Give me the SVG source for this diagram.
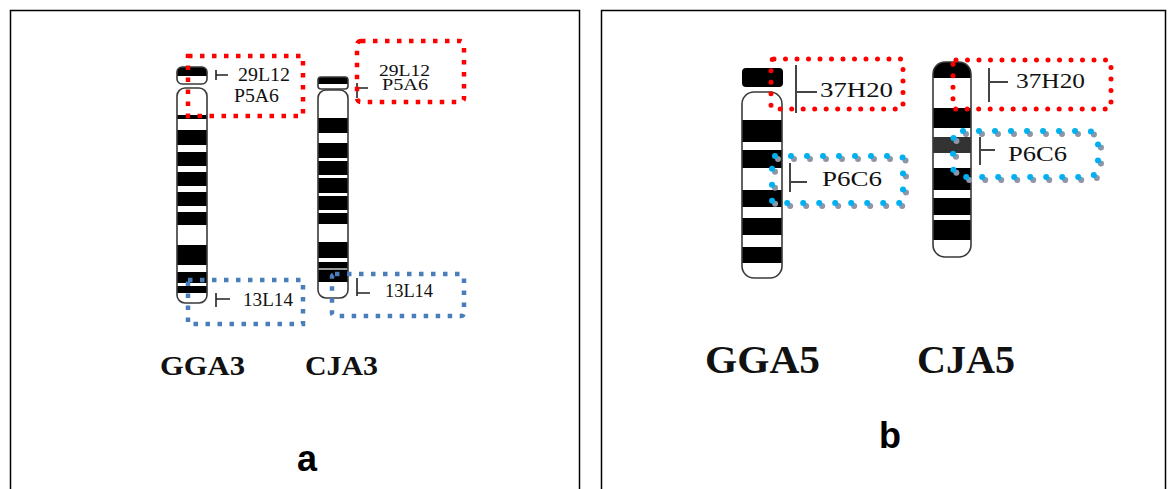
<svg xmlns="http://www.w3.org/2000/svg" width="1169" height="489" viewBox="0 0 1169 489">
  <style>
    .panel { fill: #ffffff; stroke: #000000; stroke-width: 1.5; }
    .arm { fill: #ffffff; }
    .band { fill: #000000; }
    .outline { fill: none; stroke: #3a3a3a; stroke-width: 1.6; }
    .lbl { font-family: "Liberation Serif", "Times New Roman", serif; fill: #111111; }
    .chr { font-family: "Liberation Serif", "Times New Roman", serif; font-weight: bold; fill: #111111; }
    .panel-id { font-family: "Liberation Sans", Arial, sans-serif; font-weight: bold; font-size: 36px; fill: #000000; text-anchor: middle; }
    .sq-red { fill: none; stroke: #ff0000; stroke-width: 4.5; stroke-dasharray: 4.5 7.5; }
    .sq-blue { fill: none; stroke: #4a7ebb; stroke-width: 4.5; stroke-dasharray: 4.5 7.5; }
    .rd-red { fill: none; stroke: #ff0000; stroke-width: 5; stroke-linecap: round; stroke-dasharray: 0 11.5; }
    .rd-blue { fill: none; stroke: #00b0f0; stroke-width: 6; stroke-linecap: round; stroke-dasharray: 0 16; }
    .rd-shadow { fill: none; stroke: #8e95a6; stroke-width: 6; stroke-linecap: round; stroke-dasharray: 0 16; }
    .tick { fill: none; stroke: #222222; stroke-width: 1.6; }
    .tick-b { fill: none; stroke: #444444; stroke-width: 2; }
  </style>
  <defs>
    <clipPath id="cp-gga3-p"><rect x="177" y="67" width="30" height="17" rx="5"/></clipPath>
    <clipPath id="cp-gga3-q"><rect x="177" y="88" width="30" height="215" rx="8"/></clipPath>
    <clipPath id="cp-cja3-p"><rect x="318" y="77" width="30" height="12" rx="3"/></clipPath>
    <clipPath id="cp-cja3-q"><rect x="318" y="90" width="30" height="208" rx="8"/></clipPath>
    <clipPath id="cp-gga5-q"><rect x="742" y="92" width="40" height="186" rx="12"/></clipPath>
    <clipPath id="cp-cja5"><rect x="933" y="62" width="38" height="195" rx="12"/></clipPath>
  </defs>

  <!-- panel frames -->
  <rect class="panel" x="10.5" y="10.5" width="569" height="490"/>
  <rect class="panel" x="601.5" y="10.5" width="564" height="490"/>

  <!-- chicken chromosome 3 -->
  <g id="GGA3">
    <rect class="arm" x="177" y="67" width="30" height="17" rx="5"/>
    <g clip-path="url(#cp-gga3-p)">
      <rect class="band" x="177" y="67" width="30" height="9"/>
    </g>
    <rect class="outline" x="177" y="67" width="30" height="17" rx="5"/>
    <rect class="arm" x="177" y="88" width="30" height="215" rx="8"/>
    <g clip-path="url(#cp-gga3-q)">
      <rect class="band" x="177" y="115" width="30" height="4"/>
      <rect class="band" x="177" y="130" width="30" height="15"/>
      <rect class="band" x="177" y="152" width="30" height="14"/>
      <rect class="band" x="177" y="172" width="30" height="14"/>
      <rect class="band" x="177" y="192" width="30" height="14"/>
      <rect class="band" x="177" y="212" width="30" height="13"/>
      <rect class="band" x="177" y="245" width="30" height="20"/>
      <rect class="band" x="177" y="272" width="30" height="11"/>
      <rect class="band" x="177" y="286" width="30" height="7"/>
    </g>
    <rect class="outline" x="177" y="88" width="30" height="215" rx="8"/>
    <text class="chr" x="160" y="375" font-size="27" textLength="85" lengthAdjust="spacingAndGlyphs">GGA3</text>
  </g>

  <!-- quail chromosome 3 -->
  <g id="CJA3">
    <rect class="arm" x="318" y="77" width="30" height="12" rx="3"/>
    <g clip-path="url(#cp-cja3-p)">
      <rect class="band" x="318" y="77" width="30" height="7"/>
    </g>
    <rect class="outline" x="318" y="77" width="30" height="12" rx="3"/>
    <rect class="arm" x="318" y="90" width="30" height="208" rx="8"/>
    <g clip-path="url(#cp-cja3-q)">
      <rect class="band" x="318" y="118" width="30" height="15"/>
      <rect class="band" x="318" y="143" width="30" height="15"/>
      <rect class="band" x="318" y="161" width="30" height="14"/>
      <rect class="band" x="318" y="178" width="30" height="15"/>
      <rect class="band" x="318" y="196" width="30" height="14"/>
      <rect class="band" x="318" y="213" width="30" height="11"/>
      <rect class="band" x="318" y="242" width="30" height="16"/>
      <rect class="band" x="318" y="262" width="30" height="6"/>
      <rect x="318" y="268" width="30" height="2" fill="#9a9a9a"/>
      <rect class="band" x="318" y="270" width="30" height="12"/>
    </g>
    <rect class="outline" x="318" y="90" width="30" height="208" rx="8"/>
    <text class="chr" x="305" y="375" font-size="27" textLength="73" lengthAdjust="spacingAndGlyphs">CJA3</text>
  </g>

  <!-- chicken chromosome 5 -->
  <g id="GGA5">
    <rect class="band" x="742" y="68" width="41" height="19" rx="4"/>
    <rect class="arm" x="742" y="92" width="40" height="186" rx="12"/>
    <g clip-path="url(#cp-gga5-q)">
      <rect class="band" x="742" y="120" width="40" height="22"/>
      <rect class="band" x="742" y="150" width="40" height="18"/>
      <rect class="band" x="742" y="190" width="40" height="17"/>
      <rect class="band" x="742" y="218" width="40" height="17"/>
      <rect class="band" x="742" y="247" width="40" height="16"/>
    </g>
    <rect class="outline" x="742" y="92" width="40" height="186" rx="12"/>
    <text class="chr" x="705" y="373" font-size="40" textLength="115" lengthAdjust="spacingAndGlyphs">GGA5</text>
  </g>

  <!-- quail chromosome 5 -->
  <g id="CJA5">
    <rect class="arm" x="933" y="62" width="38" height="195" rx="12"/>
    <g clip-path="url(#cp-cja5)">
      <rect class="band" x="933" y="62" width="38" height="16"/>
      <rect class="band" x="933" y="108" width="38" height="20"/>
      <rect x="933" y="137" width="38" height="16" fill="#333333"/>
      <rect class="band" x="933" y="168" width="38" height="22"/>
      <rect class="band" x="933" y="198" width="38" height="17"/>
      <rect class="band" x="933" y="220" width="38" height="20"/>
    </g>
    <rect class="outline" x="933" y="62" width="38" height="195" rx="12"/>
    <text class="chr" x="917" y="373" font-size="40" textLength="98" lengthAdjust="spacingAndGlyphs">CJA5</text>
  </g>

  <!-- probe markers -->
  <g id="connectors">
    <path class="tick" d="M216 70 V80 M216 75 H228"/>
    <path class="tick" d="M216 293 V307 M216 299 H230"/>
    <path class="tick" d="M357 83 V98 M357 88 H368"/>
    <path class="tick" d="M357 278 V296 M357 293 H370"/>
    <path class="tick-b" d="M796 65 V113 M796 92 H817"/>
    <path class="tick-b" d="M790 163 V192 M790 182 H807"/>
    <path class="tick-b" d="M989 68 V102 M989 82 H1008"/>
    <path class="tick-b" d="M980 137 V165 M980 150 H995"/>
  </g>

  <!-- probe labels and highlight boxes, panel a -->
  <g id="probe-29L12-GGA3">
    <rect class="sq-red" x="188" y="56" width="115" height="60"/>
    <text class="lbl" x="238" y="81" font-size="18" textLength="52" lengthAdjust="spacingAndGlyphs">29L12</text>
    <text class="lbl" x="234" y="102" font-size="18" textLength="45" lengthAdjust="spacingAndGlyphs">P5A6</text>
  </g>
  <g id="probe-29L12-CJA3">
    <rect class="sq-red" x="357" y="41" width="107" height="61" rx="4"/>
    <text class="lbl" x="379" y="76" font-size="16" textLength="51" lengthAdjust="spacingAndGlyphs">29L12</text>
    <text class="lbl" x="382" y="90" font-size="16" textLength="46" lengthAdjust="spacingAndGlyphs">P5A6</text>
  </g>
  <g id="probe-13L14-GGA3">
    <rect class="sq-blue" x="188" y="280" width="115" height="44"/>
    <text class="lbl" x="243" y="306" font-size="18" textLength="50" lengthAdjust="spacingAndGlyphs">13L14</text>
  </g>
  <g id="probe-13L14-CJA3">
    <rect class="sq-blue" x="332" y="274" width="132" height="42" rx="3"/>
    <text class="lbl" x="385" y="297" font-size="18" textLength="48" lengthAdjust="spacingAndGlyphs">13L14</text>
  </g>

  <!-- probe labels and highlight boxes, panel b -->
  <g id="probe-37H20-GGA5">
    <rect class="rd-red" x="771" y="59" width="132" height="50" rx="3"/>
    <text class="lbl" x="820" y="97" font-size="22" textLength="73" lengthAdjust="spacingAndGlyphs">37H20</text>
  </g>
  <g id="probe-37H20-CJA5">
    <rect class="rd-red" x="953" y="60" width="158" height="49" rx="3"/>
    <text class="lbl" x="1016" y="88" font-size="22" textLength="69" lengthAdjust="spacingAndGlyphs">37H20</text>
  </g>
  <g id="probe-P6C6-GGA5">
    <rect class="rd-shadow" x="775" y="159" width="131" height="47" rx="3"/>
    <rect class="rd-blue" x="772" y="156" width="131" height="47" rx="3"/>
    <text class="lbl" x="822" y="186" font-size="22" textLength="60" lengthAdjust="spacingAndGlyphs">P6C6</text>
  </g>
  <g id="probe-P6C6-CJA5">
    <rect class="rd-shadow" x="956" y="134" width="145" height="46" rx="10"/>
    <rect class="rd-blue" x="953" y="131" width="145" height="46" rx="10"/>
    <text class="lbl" x="1008" y="161" font-size="22" textLength="59" lengthAdjust="spacingAndGlyphs">P6C6</text>
  </g>

  <!-- panel letters -->
  <text class="panel-id" x="307" y="471">a</text>
  <text class="panel-id" x="890" y="448">b</text>
</svg>
